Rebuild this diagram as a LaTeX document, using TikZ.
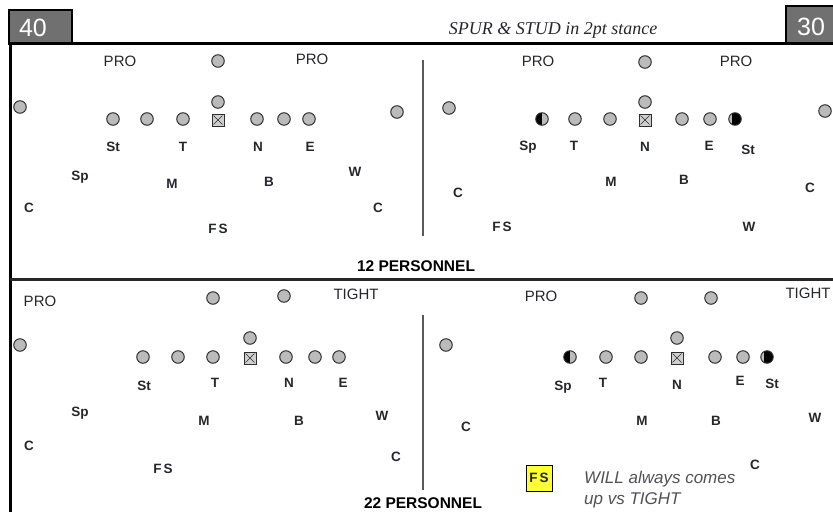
\documentclass[tikz,border=0pt]{standalone}
\usepackage{fontspec}
\setmainfont{Liberation Sans}
\newfontfamily\ttlfont{Liberation Serif}
\definecolor{plgray}{HTML}{BBBBBB}
\definecolor{plline}{HTML}{2E2E2E}
\definecolor{boxgray}{HTML}{707070}
\definecolor{txtc}{HTML}{26262E}
\definecolor{fsyellow}{HTML}{FFFF33}
\begin{document}
\begin{tikzpicture}[x=1pt,y=-1pt,
  plr/.style={circle, draw=plline, fill=plgray, line width=1pt, minimum size=12.5pt, inner sep=0pt},
  halfl/.style={plr, path picture={\fill[black] (path picture bounding box.north west) rectangle (path picture bounding box.south);}},
  halfr/.style={plr, path picture={\fill[black] ([xshift=-3pt]path picture bounding box.north) rectangle (path picture bounding box.south east);}},
  ctr/.style={rectangle, draw=plline, fill=plgray!70, line width=1pt, minimum size=12pt, inner sep=0pt,
    path picture={\draw[plline, line width=0.6pt] ([shift={(1.5pt,-1.5pt)}]path picture bounding box.north west) -- ([shift={(-1.5pt,1.5pt)}]path picture bounding box.south east)
      ([shift={(-1.5pt,-1.5pt)}]path picture bounding box.north east) -- ([shift={(1.5pt,1.5pt)}]path picture bounding box.south west);}},
  lbl/.style={font=\fontsize{13.5}{13.5}\selectfont\bfseries, text=txtc, inner sep=0pt},
  frm/.style={font=\fontsize{15}{15}\selectfont, text=txtc, inner sep=0pt},
  pers/.style={font=\fontsize{15.5}{15.5}\selectfont\bfseries, text=black, inner sep=0pt},
  numbox/.style={draw=black, fill=boxgray, line width=1.8pt},
  numtxt/.style={font=\fontsize{25}{25}\selectfont, text=white, inner sep=0pt}
]
\useasboundingbox (0,0) rectangle (833,512);

% header
\draw[numbox] (9,10) rectangle (72,43);
\node[numtxt] (n40) at (33,28) {40};
\draw[numbox] (786,6) rectangle (840,43);
\node[numtxt] (n30) at (811,27) {30};
\node[font=\ttlfont\itshape\fontsize{18}{18}\selectfont, text=txtc, inner sep=0pt] (title) at (553,30) {SPUR \& STUD in 2pt stance};

% frame lines
\draw[line width=2.6pt] (8,43.5) -- (833,43.5);
\draw[line width=3pt] (10,43) -- (10,512);
\draw[line width=2.6pt, black!85] (10,279.5) -- (833,279.5);
\draw[line width=1.6pt, black!65] (423,60) -- (423,236);
\draw[line width=1.6pt, black!65] (423,315) -- (423,490);

% ---------- top left ----------
\node[frm] (tlpro1) at (120,61) {PRO};
\node[frm] (tlpro2) at (312,59) {PRO};
\foreach \x/\y [count=\i] in {218/61, 20/107, 218/102, 113/119, 147/119, 183/119, 257/119, 284/119, 309/119, 397/112}
  \node[plr] (tlp\i) at (\x,\y) {};
\node[ctr] (tlc) at (218,120) {};
\foreach \t/\x/\y [count=\i] in {St/113/147, T/183/147, N/258/147, E/310/147, Sp/80/177, M/172/184, B/269/182, W/355/172, C/29/208, C/378/208, F\,S/218/229}
  \node[lbl] (tll\i) at (\x,\y) {\t};
\node[pers] (p12) at (416,266) {12 PERSONNEL};

% ---------- top right ----------
\node[frm] (trpro1) at (538,61) {PRO};
\node[frm] (trpro2) at (736,61) {PRO};
\foreach \x/\y [count=\i] in {645/62, 645/102, 449/108, 575/119, 610/119, 682/119, 710/119, 825/111}
  \node[plr] (trp\i) at (\x,\y) {};
\node[halfl] (trh1) at (542,119) {};
\node[halfr] (trh2) at (735,119) {};
\node[ctr] (trc) at (645,120) {};
\foreach \t/\x/\y [count=\i] in {Sp/528/147, T/574/146, N/645/147, E/709/146, St/748/150, M/611/182, B/684/180, C/458/193, C/810/188, F\,S/502/227, W/749/227}
  \node[lbl] (trl\i) at (\x,\y) {\t};

% ---------- bottom left ----------
\node[frm] (blpro) at (40,301) {PRO};
\node[frm] (bltight) at (356,294) {TIGHT};
\foreach \x/\y [count=\i] in {213/298, 284/296, 20/345, 250/338, 143/357, 178/357, 213/357, 286/357, 315/357, 339/357}
  \node[plr] (blp\i) at (\x,\y) {};
\node[ctr] (blc) at (250,358) {};
\foreach \t/\x/\y [count=\i] in {St/144/386, T/215/383, N/289/383, E/343/383, Sp/80/413, M/204/421, B/299/421, W/382/416, C/29/446, C/396/457, F\,S/163/469}
  \node[lbl] (bll\i) at (\x,\y) {\t};
\node[pers] (p22) at (423,503) {22 PERSONNEL};

% ---------- bottom right ----------
\node[frm] (brpro) at (541,296) {PRO};
\node[frm] (brtight) at (808,293) {TIGHT};
\foreach \x/\y [count=\i] in {641/298, 711/298, 446/345, 677/338, 606/357, 641/357, 715/357, 743/357}
  \node[plr] (brp\i) at (\x,\y) {};
\node[halfl] (brh1) at (570,357) {};
\node[halfr] (brh2) at (767,357) {};
\node[ctr] (brc) at (677,358) {};
\foreach \t/\x/\y [count=\i] in {Sp/563/387, T/603/383, N/677/385, E/740/381, St/772/384, C/466/427, M/642/421, B/716/421, W/815/418, C/755/465}
  \node[lbl] (brl\i) at (\x,\y) {\t};
\node[lbl, draw=black, line width=1pt, fill=fsyellow, minimum width=26pt, minimum height=26pt] (brfs) at (539,478) {F\,S};
\node[font=\itshape\fontsize{17}{21}\selectfont, text=txtc!80, inner sep=0pt, anchor=west, align=left] (note) at (584,490) {WILL always comes\\up vs TIGHT};
\end{tikzpicture}
\end{document}
